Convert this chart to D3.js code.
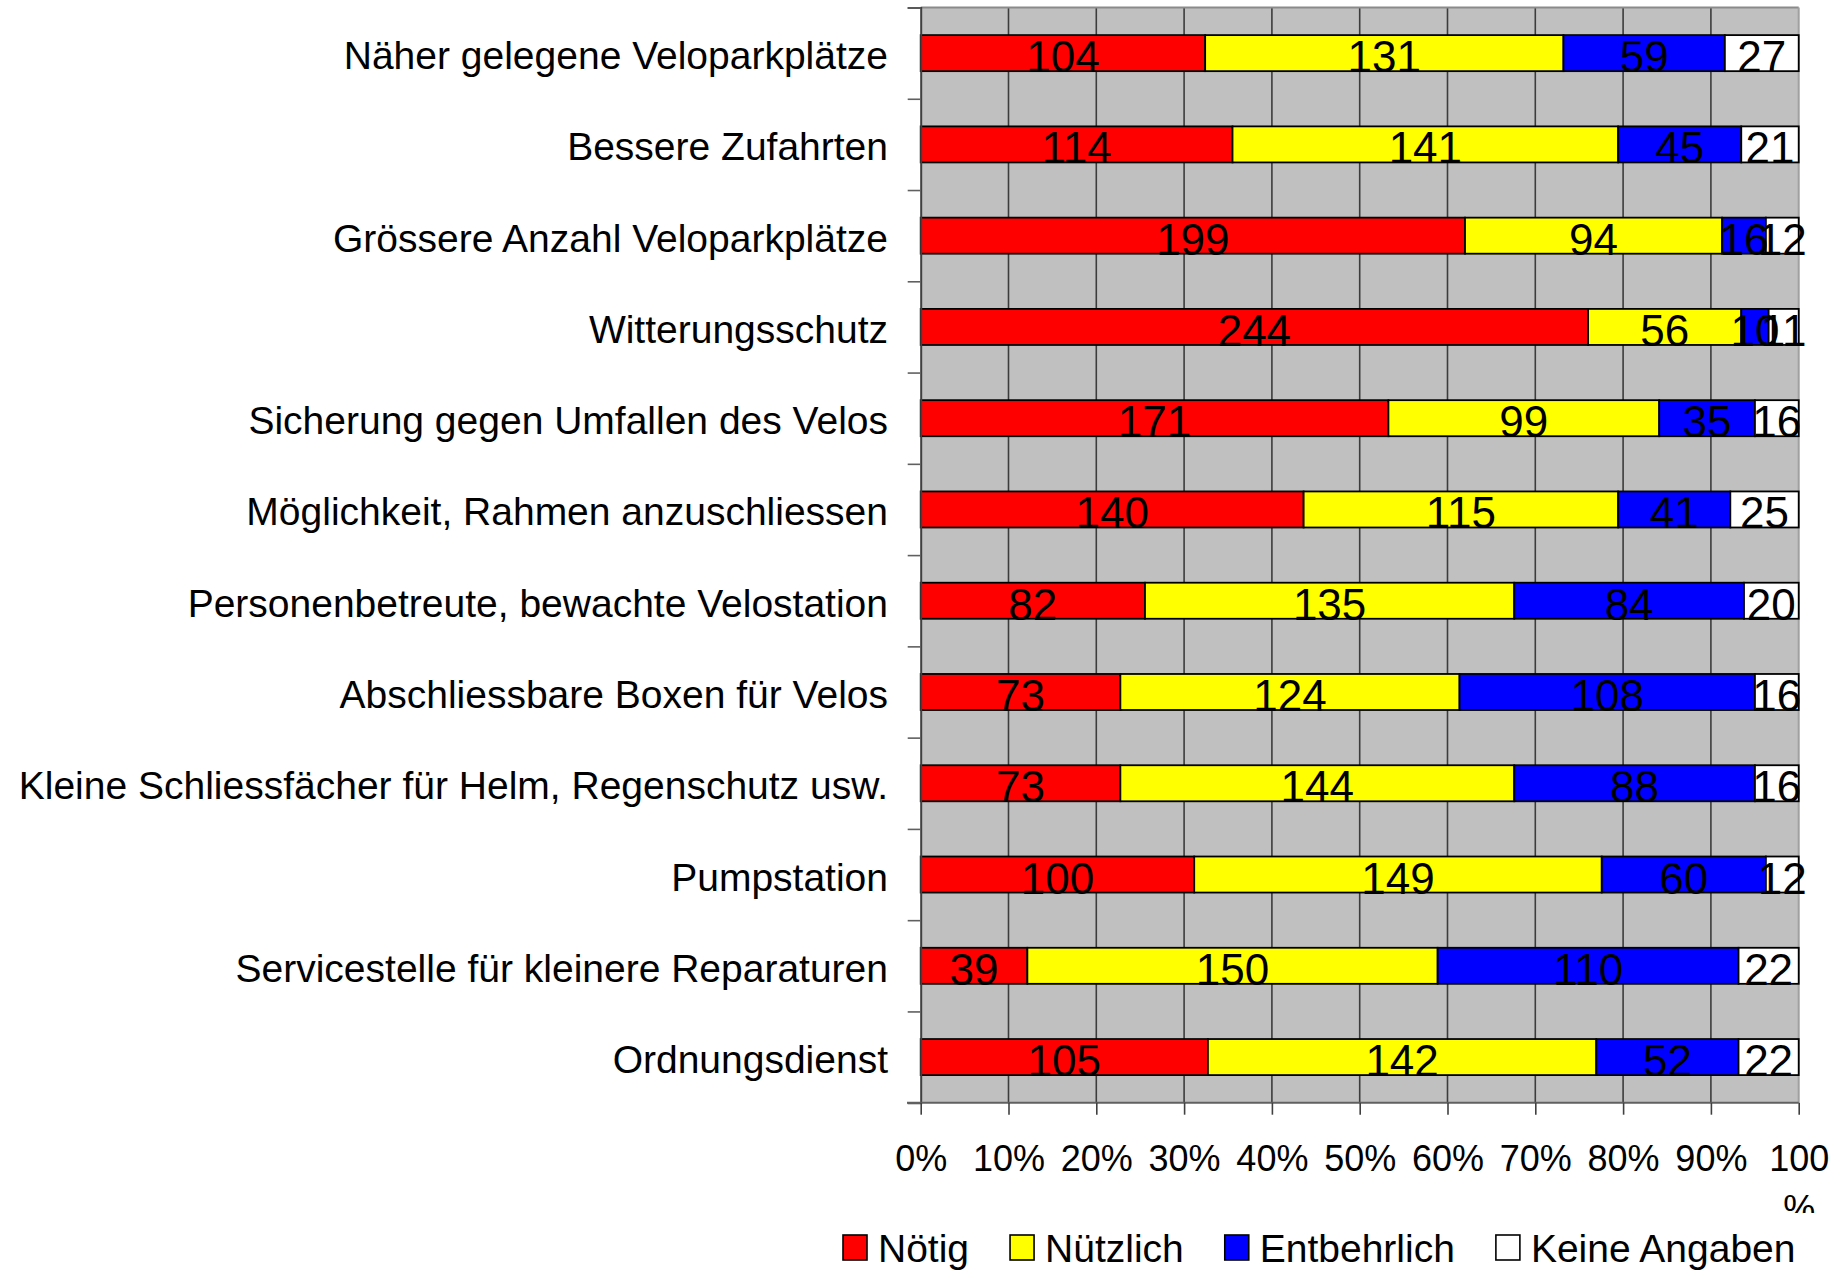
<!DOCTYPE html>
<html>
<head>
<meta charset="utf-8">
<script src="https://cdn.jsdelivr.net/npm/d3@7"></script>
<style>
  html, body { margin: 0; padding: 0; background: #ffffff; }
  svg { display: block; font-family: "Liberation Sans", Arial, sans-serif; }
</style>
</head>
<body>
<svg id="chart" width="1845" height="1270"></svg>
<script>
const categories = [
  "Näher gelegene Veloparkplätze",
  "Bessere Zufahrten",
  "Grössere Anzahl Veloparkplätze",
  "Witterungsschutz",
  "Sicherung gegen Umfallen des Velos",
  "Möglichkeit, Rahmen anzuschliessen",
  "Personenbetreute, bewachte Velostation",
  "Abschliessbare Boxen für Velos",
  "Kleine Schliessfächer für Helm, Regenschutz usw.",
  "Pumpstation",
  "Servicestelle für kleinere Reparaturen",
  "Ordnungsdienst"
];
const seriesNames = ["Nötig", "Nützlich", "Entbehrlich", "Keine Angaben"];
const noetig      = [104, 114, 199, 244, 171, 140, 82, 73, 73, 100, 39, 105];
const nuetzlich   = [131, 141, 94, 56, 99, 115, 135, 124, 144, 149, 150, 142];
const entbehrlich = [59, 45, 16, 10, 35, 41, 84, 108, 88, 60, 110, 52];
const keineAngaben= [27, 21, 12, 11, 16, 25, 20, 16, 16, 12, 22, 22];
const seriesColors = ["#ff0000", "#ffff00", "#0000ff", "#ffffff"];
const xTickValues = [0, 0.1, 0.2, 0.3, 0.4, 0.5, 0.6, 0.7, 0.8, 0.9, 1.0];

const seriesValues = [noetig, nuetzlich, entbehrlich, keineAngaben];

const svg = d3.select("#chart");
const plot = { left: 920.7, right: 1798.7, top: 7.5, bottom: 1102.7 };

const x = d3.scaleLinear().domain([0, 1]).range([plot.left, plot.right]);
const y = d3.scaleBand().domain(categories).range([plot.top, plot.bottom])
  .paddingInner(0.605).paddingOuter(0.3025);
const yIdx = d3.scaleLinear().domain([0, categories.length]).range([plot.top, plot.bottom]);

// table of stacked segments (percent of row total)
const rows = categories.map((c, i) => {
  const vals = seriesValues.map(s => s[i]);
  const total = d3.sum(vals);
  let acc = 0;
  return vals.map((v, k) => {
    const s = { cat: c, k, v, x0: acc / total, x1: (acc + v) / total };
    acc += v;
    return s;
  });
});

// plot background
svg.append("rect")
  .attr("x", plot.left).attr("y", plot.top)
  .attr("width", plot.right - plot.left).attr("height", plot.bottom - plot.top)
  .attr("fill", "#c0c0c0");

// vertical gridlines
svg.append("g").selectAll("line").data(xTickValues.slice(1, -1)).join("line")
  .attr("x1", d => x(d)).attr("x2", d => x(d))
  .attr("y1", plot.top).attr("y2", plot.bottom)
  .attr("stroke", "#3c3c3c").attr("stroke-width", 1.6);

// top and right border
svg.append("line").attr("x1", plot.left).attr("x2", plot.right)
  .attr("y1", plot.top).attr("y2", plot.top)
  .attr("stroke", "#8a8a8a").attr("stroke-width", 2);
svg.append("line").attr("x1", plot.right).attr("x2", plot.right)
  .attr("y1", plot.top).attr("y2", plot.bottom)
  .attr("stroke", "#a0a0a0").attr("stroke-width", 2);

// bars
const barG = svg.append("g");
rows.forEach(segs => {
  barG.selectAll(null).data(segs).join("rect")
    .attr("x", d => x(d.x0)).attr("y", d => y(d.cat))
    .attr("width", d => x(d.x1) - x(d.x0)).attr("height", y.bandwidth())
    .attr("fill", d => seriesColors[d.k])
    .attr("stroke", "#000").attr("stroke-width", 1.8);
});

// left axis line and boundary ticks
const leftTicks = d3.axisLeft(yIdx).tickValues(d3.range(0, categories.length + 1))
  .tickSize(13).tickFormat("");
const lt = svg.append("g").attr("transform", `translate(${plot.left},0)`).call(leftTicks);
lt.select(".domain").attr("stroke", "#404040").attr("stroke-width", 2);
lt.selectAll(".tick line").attr("stroke", "#606060").attr("stroke-width", 1.6);

// category labels
const catAxis = d3.axisLeft(y).tickSize(0).tickPadding(0);
const ca = svg.append("g").attr("transform", `translate(888,0)`).call(catAxis);
ca.select(".domain").remove();
ca.selectAll(".tick text")
  .attr("font-family", "'Liberation Sans', Arial, sans-serif")
  .attr("font-size", 39).attr("fill", "#000")
  .attr("dy", null).attr("y", 16).attr("x", 0)
  .attr("text-anchor", "end");

// data labels
const labG = svg.append("g");
rows.forEach(segs => {
  labG.selectAll(null).data(segs).join("text")
    .attr("x", d => (x(d.x0) + x(d.x1)) / 2)
    .attr("y", d => y(d.cat) + y.bandwidth() / 2 + 19)
    .attr("text-anchor", "middle")
    .attr("font-size", 44).attr("fill", "#000")
    .text(d => d.v);
});

// bottom axis
const clip = svg.append("clipPath").attr("id", "xclip");
clip.append("rect").attr("x", 0).attr("y", 0).attr("width", 1845).attr("height", 1213);
const xAxis = d3.axisBottom(x).tickValues(xTickValues).tickSize(12)
  .tickFormat(d => Math.round(d * 100) + "%");
const xa = svg.append("g").attr("transform", `translate(0,${plot.bottom})`)
  .call(xAxis);
xa.attr("clip-path", null);
xa.select(".domain").remove();
svg.append("line").attr("x1", 907).attr("x2", plot.right)
  .attr("y1", plot.bottom).attr("y2", plot.bottom)
  .attr("stroke", "#606060").attr("stroke-width", 2);
xa.selectAll(".tick line").attr("stroke", "#404040").attr("stroke-width", 1.6);
xa.selectAll(".tick text")
  .attr("font-family", "'Liberation Sans', Arial, sans-serif")
  .attr("font-size", 36).attr("fill", "#000")
  .attr("dy", null).attr("y", 68.5)
  .each(function(d) {
    if (d === 1) {
      const t = d3.select(this);
      t.text(null);
      t.append("tspan").attr("x", 0).attr("y", 68.5).text("100");
      t.append("tspan").attr("x", 0).attr("y", 118).text("%");
    }
  });
// the second line of "100 %" is cut off just under its top, as in the reference
svg.append("g").attr("clip-path", "url(#xclip)").node().appendChild(xa.node());

// legend
const leg = svg.append("g");
let lx = 843;
seriesNames.forEach((name, k) => {
  leg.append("rect").attr("x", lx).attr("y", 1235).attr("width", 24).attr("height", 25)
    .attr("fill", seriesColors[k]).attr("stroke", "#000").attr("stroke-width", 1.6);
  const t = leg.append("text").attr("x", lx + 35).attr("y", 1262)
    .attr("font-size", 39).attr("fill", "#000").text(name);
  lx = lx + 35 + t.node().getComputedTextLength() + 41;
});
</script>
</body>
</html>
